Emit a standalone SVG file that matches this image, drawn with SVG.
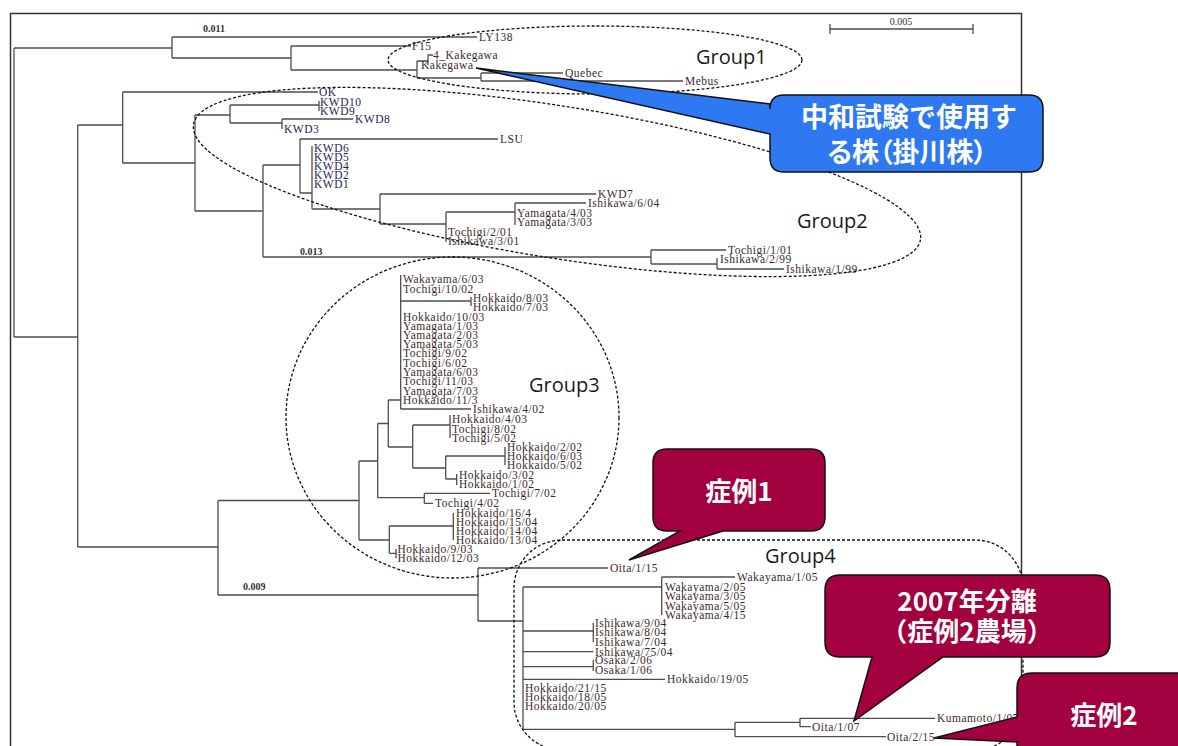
<svg xmlns="http://www.w3.org/2000/svg" width="1178" height="746" viewBox="0 0 1178 746">
<style>
.t{font-family:"Liberation Serif",serif;font-size:11.5px;letter-spacing:.5px;fill:#3a2a2a}
.k{fill:#1c1c5a}
.n{font-family:"Liberation Serif",serif;font-size:10px;font-weight:bold;fill:#333}
.s{font-family:"Liberation Serif",serif;font-size:10px;fill:#333}
.g{font-family:"Open Sans","Liberation Sans",sans-serif;font-size:20px;fill:#1a1a1a}
.c{font-family:"Noto Sans CJK JP",sans-serif;font-weight:bold;font-size:26px;fill:#fff}
.br{fill:none;stroke:#4d4d4d;stroke-width:1.3}
.el{fill:none;stroke:#111;stroke-width:1.3;stroke-dasharray:3 2}
.red{fill:#a3003f;stroke:#111;stroke-width:1.5}
</style>
<rect width="1178" height="746" fill="#fff"/>
<rect x="10.5" y="13.5" width="1011" height="760" fill="none" stroke="#333" stroke-width="1.5"/>
<g id="scale-bar">
<path class="br" d="M830,29H973M830,24V34M973,24V34"/>
<text class="s" x="901" y="25" text-anchor="middle">0.005</text>
</g>
<g id="connectors">
<path class="br" d="M14,48V337M14,48H172M172,37V58M172,37H477M172,58H291M291,46V70M291,46H411M291,70H417M417,61V78M417,61H428M428,55V65M428,55H433M417,78H481M481,73V81M481,73H563M481,81H683"/>
<path class="br" d="M14,337H77.7M77.7,125V547M77.7,125H122.7M122.7,92V163M122.7,92H318M122.7,163H195M195,115V211M195,115H230M230,105V123M230,105H319M319,101V111M230,123H282M282,119V129M282,119H353M195,211H263M263,165V257M263,165H300M300,139V193M300,139H498M300,193H312M312,146V209M312,209H380M380,194V224M380,194H596M380,224H446M446,212V242M446,212H515M515,203V225M515,203H586M263,257H651M651,250V264M651,250H726M651,264H717M717,258V269M717,269H784"/>
<path class="br" d="M77.7,547H218M218,500.5V595M218,500.5H359M359,461V540M359,461H377.7M377.7,423.5V497.7M377.7,423.5H388.3M388.3,400V447M388.3,400H400.7M400.7,275V409M400.7,301H471M471,297V306M400.7,409H471M388.3,447H412.7M412.7,425V468M412.7,425H450M450,415V438M412.7,468H445.7M445.7,456V479M445.7,456H505M505,447V465M445.7,479H456.7M456.7,474V485M377.7,497.7H424.3M424.3,493.3V503.3M424.3,493.3H490M424.3,503.3H433M359,540H389.3M389.3,526V553.3M389.3,526H453.3M453.3,513V540M389.3,553.3H396M396,549V558.3"/>
<path class="br" d="M218,595H478M478,568V621M478,568H608M478,621H523M523,587V729.3M523,587H661.7M661.7,577V615M661.7,577H735M523,631H593.3M593.3,623V642M523,651.7H593.3M523,666.7H593.3M593.3,660V671M523,679.3H665M523,729.3H735M735,722.3V736.7M735,722.3H800M800,718.3V726.7M800,718.3H935M800,726.7H810.7M735,736.7H886"/>
</g>
<g id="branch-lengths">
<text class="n" x="203" y="32">0.011</text>
<text class="n" x="300" y="254.5">0.013</text>
<text class="n" x="243" y="590">0.009</text>
</g>
<g id="leaves-group1">
<text class="t" x="479" y="41">LY138</text>
<text class="t" x="412" y="50">F15</text>
<text class="t" x="433" y="59">4_Kakegawa</text>
<text class="t" x="421" y="68.5">Kakegawa</text>
<text class="t" x="565" y="77">Quebec</text>
<text class="t" x="685" y="85">Mebus</text>
</g>
<g id="leaves-group2">
<text class="t k" x="319" y="96">OK</text>
<text class="t k" x="320" y="105.5">KWD10</text>
<text class="t k" x="320" y="114.5">KWD9</text>
<text class="t k" x="355" y="123">KWD8</text>
<text class="t k" x="284" y="133">KWD3</text>
<text class="t" x="500" y="142.5">LSU</text>
<text class="t k" x="314" y="152">KWD6</text>
<text class="t k" x="314" y="160.5">KWD5</text>
<text class="t k" x="314" y="169.5">KWD4</text>
<text class="t k" x="314" y="178.8">KWD2</text>
<text class="t k" x="314" y="187.8">KWD1</text>
<text class="t" x="598" y="198">KWD7</text>
<text class="t" x="588" y="207">Ishikawa/6/04</text>
<text class="t" x="517" y="217">Yamagata/4/03</text>
<text class="t" x="517" y="226">Yamagata/3/03</text>
<text class="t" x="448" y="236">Tochigi/2/01</text>
<text class="t" x="448" y="245">Ishikawa/3/01</text>
<text class="t" x="728" y="254">Tochigi/1/01</text>
<text class="t" x="720" y="263">Ishikawa/2/99</text>
<text class="t" x="786" y="273">Ishikawa/1/99</text>
</g>
<g id="leaves-group3">
<text class="t" x="403" y="283">Wakayama/6/03</text>
<text class="t" x="403" y="292.5">Tochigi/10/02</text>
<text class="t" x="473" y="301.5">Hokkaido/8/03</text>
<text class="t" x="473" y="311">Hokkaido/7/03</text>
<text class="t" x="403" y="320.5">Hokkaido/10/03</text>
<text class="t" x="403" y="330">Yamagata/1/03</text>
<text class="t" x="403" y="339">Yamagata/2/03</text>
<text class="t" x="403" y="348">Yamagata/5/03</text>
<text class="t" x="403" y="357.3">Tochigi/9/02</text>
<text class="t" x="403" y="366.5">Tochigi/6/02</text>
<text class="t" x="403" y="375.7">Yamagata/6/03</text>
<text class="t" x="403" y="384.8">Tochigi/11/03</text>
<text class="t" x="403" y="394.5">Yamagata/7/03</text>
<text class="t" x="403" y="404">Hokkaido/11/3</text>
<text class="t" x="473" y="413.3">Ishikawa/4/02</text>
<text class="t" x="452" y="423">Hokkaido/4/03</text>
<text class="t" x="452" y="432.5">Tochigi/8/02</text>
<text class="t" x="452" y="441.7">Tochigi/5/02</text>
<text class="t" x="507" y="451.3">Hokkaido/2/02</text>
<text class="t" x="507" y="460">Hokkaido/6/03</text>
<text class="t" x="507" y="469">Hokkaido/5/02</text>
<text class="t" x="459" y="478.7">Hokkaido/3/02</text>
<text class="t" x="459" y="487.7">Hokkaido/1/02</text>
<text class="t" x="492" y="497.3">Tochigi/7/02</text>
<text class="t" x="435" y="506.7">Tochigi/4/02</text>
<text class="t" x="456" y="517.3">Hokkaido/16/4</text>
<text class="t" x="456" y="526.3">Hokkaido/15/04</text>
<text class="t" x="456" y="535.3">Hokkaido/14/04</text>
<text class="t" x="456" y="544">Hokkaido/13/04</text>
<text class="t" x="397.5" y="553">Hokkaido/9/03</text>
<text class="t" x="397.5" y="562.3">Hokkaido/12/03</text>
</g>
<g id="leaves-group4">
<text class="t" x="610" y="572.3">Oita/1/15</text>
<text class="t" x="737" y="580.7">Wakayama/1/05</text>
<text class="t" x="665" y="590.7">Wakayama/2/05</text>
<text class="t" x="665" y="600">Wakayama/3/05</text>
<text class="t" x="665" y="609.7">Wakayama/5/05</text>
<text class="t" x="665" y="619">Wakayama/4/15</text>
<text class="t" x="595" y="627.3">Ishikawa/9/04</text>
<text class="t" x="595" y="636.3">Ishikawa/8/04</text>
<text class="t" x="595" y="645.7">Ishikawa/7/04</text>
<text class="t" x="595" y="655.7">Ishikawa/75/04</text>
<text class="t" x="595" y="664.3">Osaka/2/06</text>
<text class="t" x="595" y="674">Osaka/1/06</text>
<text class="t" x="667" y="683.3">Hokkaido/19/05</text>
<text class="t" x="525" y="692.3">Hokkaido/21/15</text>
<text class="t" x="525" y="701.3">Hokkaido/18/05</text>
<text class="t" x="525" y="710.3">Hokkaido/20/05</text>
<text class="t" x="937" y="722.3">Kumamoto/1/07</text>
<text class="t" x="812" y="731">Oita/1/07</text>
<text class="t" x="887" y="741">Oita/2/15</text>
</g>
<g id="group1">
<ellipse class="el" cx="595" cy="60" rx="207" ry="34"/>
<text class="g" x="696" y="64">Group1</text>
</g>
<g id="group2">
<ellipse class="el" cx="557" cy="182" rx="368" ry="76" transform="rotate(9 557 182)"/>
<text class="g" x="797" y="228">Group2</text>
</g>
<g id="group3">
<ellipse class="el" cx="452.5" cy="417.5" rx="166.5" ry="160.5"/>
<text class="g" x="529" y="392">Group3</text>
</g>
<g id="group4">
<rect class="el" x="514" y="540" width="509" height="210" rx="48"/>
<text class="g" x="765" y="563">Group4</text>
</g>
<g id="callout-kakegawa">
<path d="M784,95H1029Q1043,95 1043,109V158Q1043,172 1029,172H784Q770,172 770,158V134L476,68L770,104V109Q770,95 784,95Z" fill="#2e78f2" stroke="#111" stroke-width="1.5"/>
<text class="c" x="909" y="127" text-anchor="middle" style="font-size:27px">中和試験で使用す</text>
<text class="c" x="907" y="162" text-anchor="middle" style="font-size:27px;font-feature-settings:'palt'">る株（掛川株）</text>
</g>
<g id="callout-case1">
<path class="red" d="M667,449H811Q825,449 825,463V517Q825,531 811,531H723L629,560L680,531H667Q653,531 653,517V463Q653,449 667,449Z"/>
<text class="c" x="739" y="501" text-anchor="middle">症例1</text>
</g>
<g id="callout-2007">
<path class="red" d="M840,575H1095Q1110,575 1110,590V642Q1110,657 1095,657H943L854,721L872,657H840Q825,657 825,642V590Q825,575 840,575Z"/>
<text class="c" x="967" y="611" text-anchor="middle">2007年分離</text>
<text class="c" x="967" y="641" text-anchor="middle">（症例2農場）</text>
</g>
<g id="callout-case2">
<path class="red" d="M1032,673H1200V770H1017V742L934,738L1017,717V688Q1017,673 1032,673Z"/>
<text class="c" x="1104" y="725" text-anchor="middle">症例2</text>
</g>
</svg>
